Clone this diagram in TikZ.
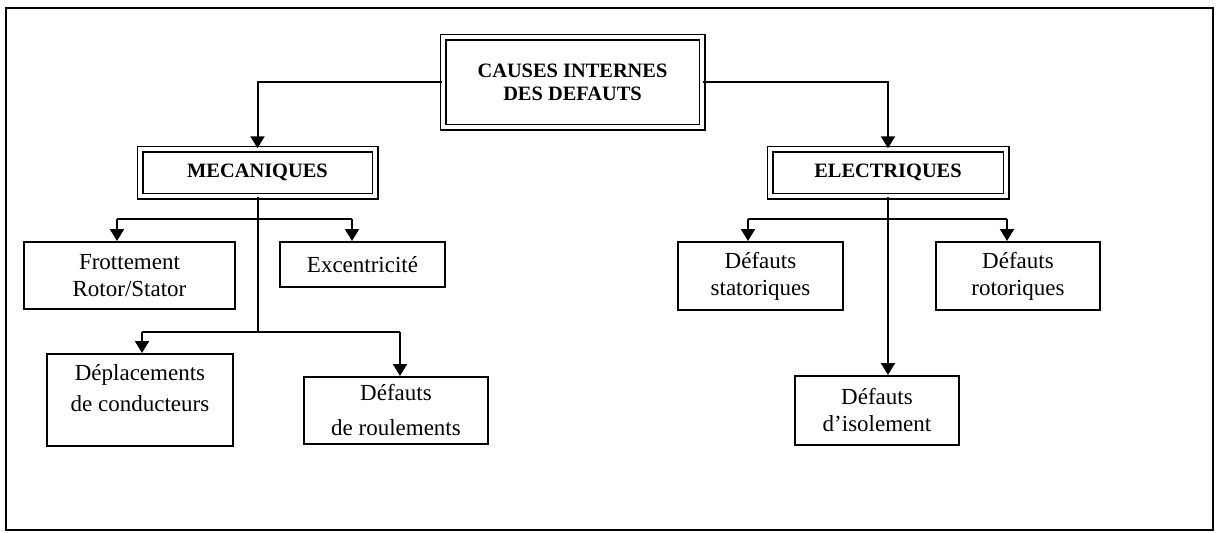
\documentclass[tikz,border=0pt]{standalone}
\usepackage{fontspec}
\setmainfont{Liberation Serif}
\usetikzlibrary{arrows.meta}

\begin{document}
\begin{tikzpicture}[x=0.5pt, y=-0.5pt,
  box/.style={draw, line width=1pt, align=center, inner sep=0pt, font=\fontsize{11.5}{13.5}\selectfont},
  dbox/.style={draw, double, double distance=2pt, line width=.75pt, align=center, inner sep=0pt, font=\fontsize{10.2}{11.5}\selectfont\bfseries},
  link/.style={line width=1pt},
  arr/.style={line width=1pt, -{Triangle[width=7pt,length=6pt]}}]
        \useasboundingbox (0,0) rectangle (1228,532);
        \draw[line width=1.3pt] (6,8) rectangle (1213,530);
        \node[dbox, minimum width=129.5pt, minimum height=45pt] (causes) at (572.5,82) {CAUSES INTERNES\\DES DEFAUTS};
        \node[dbox, minimum width=117.5pt, minimum height=23.5pt] (meca) at (257.5,172.5) {MECANIQUES};
        \node[dbox, minimum width=118pt, minimum height=23.5pt] (elec) at (888,172.5) {ELECTRIQUES};
        \node[box, minimum width=105.5pt, minimum height=33.5pt] (frott) at (129.5,275.5) {Frottement\\Rotor/Stator};
        \node[box, minimum width=82.5pt, minimum height=22.5pt] (excen) at (362.5,264.5) {Excentricité};
        \node[box, minimum width=93pt, minimum height=46pt, text depth=12pt] (depla) at (140,400) {Déplacements\\[2pt]de conducteurs};
        \node[box, minimum width=92pt, minimum height=33.5pt] (roul) at (396,410.5) {Défauts\\[4pt]de roulements};
        \node[box, minimum width=82.5pt, minimum height=34pt] (stat) at (760.5,276) {Défauts\\statoriques};
        \node[box, minimum width=82pt, minimum height=34pt] (rot) at (1018,276) {Défauts\\rotoriques};
        \node[box, minimum width=82pt, minimum height=34.5pt] (isol) at (877,410.5) {Défauts\\d’isolement};
        \coordinate (m1) at (117,219);
        \coordinate (m2) at (352,219);
        \coordinate (m3) at (142,332);
        \coordinate (m4) at (400,332);
        \coordinate (mend) at (257.5,332);
        \coordinate (e1) at (748,219);
        \coordinate (e2) at (1007,219);
        \draw[arr] (causes.west) -| (meca.north);
        \draw[arr] (causes.east) -| (elec.north);
        \draw[link] (meca.south) -- (mend);
        \draw[link] (m1) -- (m2);
        \draw[link] (m3) -- (m4);
        \draw[arr] (m1) -- (m1 |- frott.north);
        \draw[arr] (m2) -- (m2 |- excen.north);
        \draw[arr] (m3) -- (m3 |- depla.north);
        \draw[arr] (m4) -- (m4 |- roul.north);
        \draw[link] (e1) -- (e2);
        \draw[arr] (e1) -- (e1 |- stat.north);
        \draw[arr] (e2) -- (e2 |- rot.north);
        \draw[arr] (elec.south) -- (elec.south |- isol.north);
\end{tikzpicture}
\end{document}
